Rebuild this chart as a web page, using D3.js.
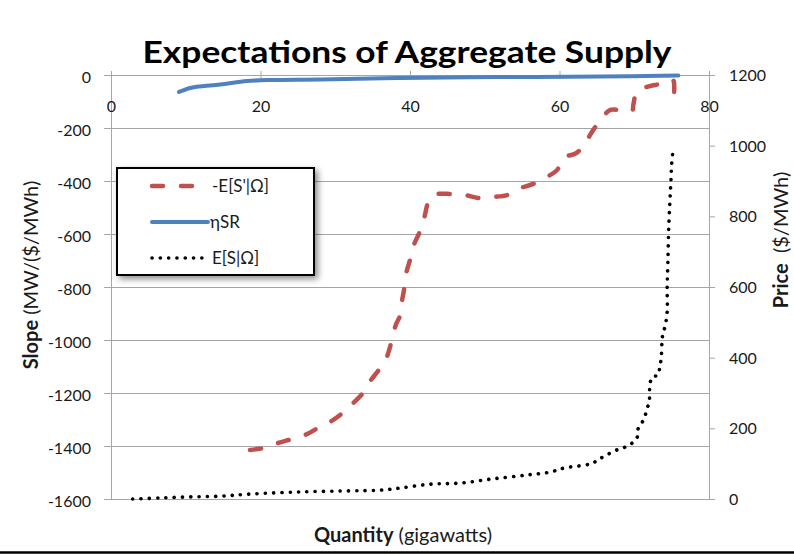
<!DOCTYPE html>
<html>
<head>
<meta charset="utf-8">
<script src="https://cdn.jsdelivr.net/npm/d3@7"></script>
<style>
  html, body { margin: 0; padding: 0; background: #fff; }
  svg { display: block; font-family: Lato, "Open Sans", sans-serif; }
</style>
</head>
<body>
<svg id="chart" width="794" height="555"></svg>
<script>
// ---- data ----
const xTicks = [0, 20, 40, 60, 80];
const leftTicks = [0, -200, -400, -600, -800, -1000, -1200, -1400, -1600];
const rightTicks = [0, 200, 400, 600, 800, 1000, 1200];

const seriesNames = ["-E[S'|Ω]", "ηSR", "E[S|Ω]"];

// -E[S'|Ω]  (left axis)
const slopeExpQ = [18.6,20.3,22.3,24.2,26.0,27.7,29.3,31.0,32.4,33.7,34.6,36.0,36.9,37.5,38.1,38.7,38.9,39.2,39.5,40.0,40.5,41.3,41.9,42.4,43.1,45.4,47.4,49.1,51.1,53.0,54.4,56.5,58.3,59.7,60.5,62.3,63.4,64.5,65.7,66.8,68.8,69.7,69.9,70.4,72.1,73.4,74.5,75.2,75.2];
const slopeExpV = [-1415,-1408,-1389,-1374,-1358,-1332,-1309,-1275,-1238,-1200,-1158,-1106,-1064,-1008,-943,-906,-857,-811,-747,-698,-642,-592,-540,-483,-453,-449,-453,-464,-460,-453,-430,-411,-385,-358,-313,-294,-257,-208,-162,-132,-136,-136,-109,-60,-42,-34,-23,-19,-113];

// ηSR (left axis)
const etaQ = [9.1,10.6,11.9,14.6,18.2,21.3,28.0,38.7,52.0,65.4,75.9];
const etaV = [-64,-49,-43,-36,-23,-19,-17,-11,-8,-6,-2];

// E[S|Ω] (right axis, price)
const supplyQ = [2.9,6.6,10.6,14.6,18.6,25.3,32.0,36.0,38.7,42.7,46.7,51.1,55.7,58.7,60.7,64.1,65.0,65.8,67.7,68.8,69.7,70.4,70.5,71.0,71.4,71.7,72.0,72.1,72.4,73.2,73.4,73.6,73.7,73.8,74.1,74.4,74.4,74.5,74.6,74.8,74.9,75.0,75.2];
const supplyP = [0,3,6,8,14,20,23,25,31,42,45,57,68,76,88,99,108,119,139,147,158,175,198,215,232,255,275,323,345,351,374,396,442,464,487,529,600,668,761,855,897,945,991];

// ---- layout ----
const svg = d3.select("#chart");
const x = d3.scaleLinear().domain([0, 80]).range([111, 709]);
const yL = d3.scaleLinear().domain([-1600, 0]).range([499, 75]);
const yR = d3.scaleLinear().domain([0, 1200]).range([499, 75]);
const gridColor = "#a6a6a6";
const textColor = "#1a1a1a";
const plain = d => String(d);

// gridlines (left axis)
svg.append("g").selectAll("line").data(leftTicks).join("line")
  .attr("x1", 104).attr("x2", 709)
  .attr("y1", d => yL(d)).attr("y2", d => yL(d))
  .attr("stroke", gridColor).attr("stroke-width", 1).attr("shape-rendering", "crispEdges");

// left axis
const gLeft = svg.append("g").attr("transform", "translate(111,0)")
  .call(d3.axisLeft(yL).tickValues(leftTicks).tickFormat(plain).tickSize(7).tickPadding(13));
gLeft.select(".domain").attr("stroke", gridColor).attr("shape-rendering", "crispEdges");
gLeft.selectAll(".tick line").attr("stroke", gridColor);
gLeft.selectAll(".tick text").attr("font-size", 16).attr("fill", textColor)
  .attr("font-family", "Lato, sans-serif").attr("dy", "0.45em");

// right axis
const gRight = svg.append("g").attr("transform", "translate(709,0)")
  .call(d3.axisRight(yR).tickValues(rightTicks).tickFormat(plain).tickSize(6).tickPadding(14));
gRight.select(".domain").attr("stroke", gridColor).attr("shape-rendering", "crispEdges");
gRight.selectAll(".tick line").attr("stroke", gridColor);
gRight.selectAll(".tick text").attr("font-size", 16).attr("fill", textColor)
  .attr("font-family", "Lato, sans-serif").attr("dy", "0.35em");

// x axis (at slope = 0)
const gX = svg.append("g").attr("transform", `translate(0,${yL(0)})`)
  .call(d3.axisBottom(x).tickValues(xTicks).tickFormat(plain).tickSize(0).tickPadding(26));
gX.select(".domain").remove();
gX.selectAll(".tick text").attr("font-size", 16).attr("fill", textColor)
  .attr("font-family", "Lato, sans-serif");
gX.selectAll(".tick").append("line")
  .attr("y1", -4).attr("y2", 4).attr("stroke", gridColor);

// ---- series ----
const curve = d3.curveCatmullRom.alpha(0.5);
const lineL = d3.line().x(d => x(d[0])).y(d => yL(d[1])).curve(curve);
const lineR = d3.line().x(d => x(d[0])).y(d => yR(d[1])).curve(curve);

const etaData = etaQ.map((q, i) => [q, etaV[i]]);
const slopeData = slopeExpQ.map((q, i) => [q, slopeExpV[i]]);
const supplyData = supplyQ.map((q, i) => [q, supplyP[i]]);

svg.append("path").datum(etaData).attr("d", lineL)
  .attr("fill", "none").attr("stroke", "#4F81BD").attr("stroke-width", 4)
  .attr("stroke-linecap", "round");

svg.append("path").datum(slopeData).attr("d", lineL)
  .attr("fill", "none").attr("stroke", "#C0504D").attr("stroke-width", 4.5)
  .attr("stroke-dasharray", "11 18").attr("stroke-linecap", "round");

svg.append("path").datum(supplyData).attr("d", lineR)
  .attr("fill", "none").attr("stroke", "#000").attr("stroke-width", 3.6)
  .attr("stroke-dasharray", "0.1 8.2").attr("stroke-linecap", "round");

// ---- legend ----
const defs = svg.append("defs");
const f = defs.append("filter").attr("id", "shadow").attr("x", "-10%").attr("y", "-10%")
  .attr("width", "130%").attr("height", "140%");
f.append("feDropShadow").attr("dx", 3).attr("dy", 3).attr("stdDeviation", 3)
  .attr("flood-color", "#000").attr("flood-opacity", 0.45);

const lg = svg.append("g");
lg.append("rect").attr("x", 117).attr("y", 168).attr("width", 197).attr("height", 107)
  .attr("fill", "#fff").attr("stroke", "#000").attr("stroke-width", 2)
  .attr("filter", "url(#shadow)");

const legendY = [186, 222, 258];
const legendStyles = [
  { stroke: "#C0504D", w: 4.5, dash: "11 18", x2: 197 },
  { stroke: "#4F81BD", w: 4, dash: null, x2: 208 },
  { stroke: "#000", w: 3.6, dash: "0.1 8.2", x2: 204 }
];
seriesNames.forEach((name, i) => {
  const s = legendStyles[i];
  const l = lg.append("line").attr("x1", 152).attr("x2", s.x2)
    .attr("y1", legendY[i]).attr("y2", legendY[i])
    .attr("stroke", s.stroke).attr("stroke-width", s.w).attr("stroke-linecap", "round");
  if (s.dash) l.attr("stroke-dasharray", s.dash);
  lg.append("text").attr("x", i === 1 ? 210 : 212).attr("y", legendY[i]).attr("dy", "0.36em")
    .attr("font-size", 17).attr("fill", textColor).text(name);
});

// ---- titles ----
svg.append("text").attr("x", 407).attr("y", 63).attr("text-anchor", "middle")
  .attr("font-size", 31).attr("font-weight", "bold").attr("fill", "#000")
  .attr("textLength", 529).attr("lengthAdjust", "spacingAndGlyphs")
  .text("Expectations of Aggregate Supply");

const xl = svg.append("text").attr("x", 403).attr("y", 542).attr("text-anchor", "middle")
  .attr("font-size", 20).attr("fill", textColor);
xl.append("tspan").attr("font-weight", "bold").text("Quantity");
xl.append("tspan").text(" (gigawatts)");

const yl = svg.append("text").attr("transform", "translate(38,275) rotate(-90)")
  .attr("text-anchor", "middle").attr("font-size", 20).attr("fill", textColor);
yl.append("tspan").attr("font-weight", "bold").text("Slope");
yl.append("tspan").text(" (MW/($/MWh)");

const yr = svg.append("text").attr("transform", "translate(788,240) rotate(-90)")
  .attr("text-anchor", "middle").attr("font-size", 20).attr("fill", textColor)
  .attr("xml:space", "preserve");
yr.append("tspan").attr("font-weight", "bold").text("Price");
yr.append("tspan").text("  ($/MWh)");

// bottom rule
svg.append("line").attr("x1", 0).attr("x2", 794).attr("y1", 552.5).attr("y2", 552.5)
  .attr("stroke", "#000").attr("stroke-width", 2.5);
</script>
</body>
</html>
